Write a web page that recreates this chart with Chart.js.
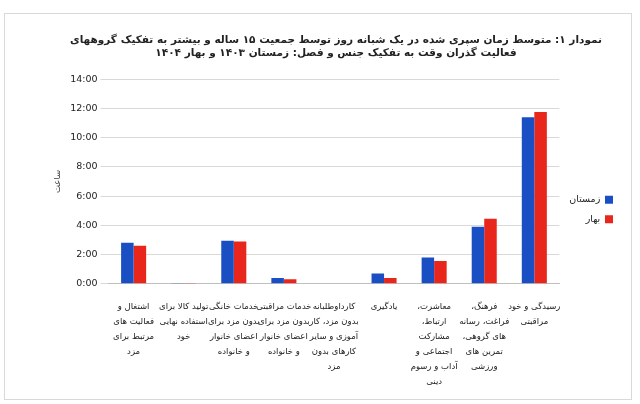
<!DOCTYPE html>
<html><head><meta charset="utf-8">
<script src="https://cdn.jsdelivr.net/npm/chart.js@4"></script>
<style>
html,body{margin:0;padding:0;background:#fff;}
#wrap{position:absolute;left:4px;top:13px;width:628px;height:387px;border:1px solid #d9d9d9;box-sizing:border-box;}
canvas{direction:rtl;}
</style></head><body>
<div id="wrap"><canvas id="c" dir="rtl"></canvas></div>
<script>
const categories = [
 ["اشتغال و","فعالیت های","مرتبط برای","مزد"],
 ["تولید کالا برای","استفاده نهایی","خود"],
 ["خدمات خانگی","بدون مزد برای","اعضای خانوار","و خانواده"],
 ["خدمات مراقبتی","بدون مزد برای","اعضای خانوار","و خانواده"],
 ["کارداوطلبانه","بدون مزد، کار","آموزی و سایر","کارهای بدون","مزد"],
 ["یادگیری"],
 ["معاشرت،","ارتباط،","مشارکت","اجتماعی و","آداب و رسوم","دینی"],
 ["فرهنگ،","فراغت، رسانه","های گروهی،","تمرین های","ورزشی"],
 ["رسیدگی و خود","مراقبتی"]
];
const winter = [2.8, 0.05, 2.95, 0.4, 0.03, 0.7, 1.8, 3.9, 11.4];
const spring = [2.6, 0.05, 2.9, 0.3, 0.03, 0.4, 1.55, 4.45, 11.75];
const seriesNames = ["زمستان","بهار"];
const titleLines = ["نمودار ۱: متوسط زمان سپری شده در یک شبانه روز توسط جمعیت ۱۵ ساله و بیشتر به تفکیک گروههای","فعالیت گذران وقت به تفکیک جنس و فصل: زمستان ۱۴۰۳ و بهار ۱۴۰۴"];
const F = "'DejaVu Sans', sans-serif";
new Chart(document.getElementById('c'), {
 type:'bar',
 data:{labels:categories, datasets:[
  {label:seriesNames[0], data:winter, backgroundColor:'#1a4fc4', barPercentage:1, categoryPercentage:0.5},
  {label:seriesNames[1], data:spring, backgroundColor:'#e8261b', barPercentage:1, categoryPercentage:0.5}
 ]},
 options:{responsive:true, maintainAspectRatio:false, animation:false,
  layout:{padding:{left:44,right:8,top:8,bottom:2}},
  plugins:{
   title:{display:true, text:titleLines, font:{family:F,size:10.5,weight:'bold'}, color:'#222', lineHeight:1.7, padding:{top:12,bottom:20}},
   legend:{position:'right', rtl:true, labels:{boxWidth:8, boxHeight:8, font:{family:F,size:9.5}, color:'#222', padding:10}},
   tooltip:{enabled:false}
  },
  scales:{
   x:{grid:{display:false}, border:{color:'#bfbfbf'}, ticks:{maxRotation:0, autoSkip:false, padding:8, font:{family:F,size:8.5,lineHeight:1.75}, color:'#222'}},
   y:{min:0, max:14, ticks:{stepSize:2, font:{family:F,size:9.5}, color:'#222', callback:v=>v.toFixed(2).replace('.',':')}, grid:{color:'#d9d9d9'}, border:{display:false},
      title:{display:true, text:'ساعت', font:{family:F,size:8.5}, color:'#444'}}
  }
 }
});
</script>
</body></html>
